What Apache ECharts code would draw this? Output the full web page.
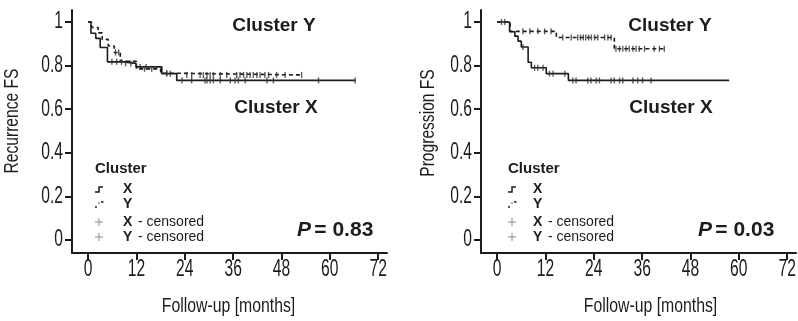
<!DOCTYPE html>
<html>
<head>
<meta charset="utf-8">
<script src="https://cdn.jsdelivr.net/npm/echarts@6/dist/echarts.min.js"></script>
<style>html,body{margin:0;padding:0;background:#fff}#c{width:798px;height:321px}</style>
</head>
<body>
<div id="c"></div>
<script>
// ---------- data ----------
var xTicks = [0, 12, 24, 36, 48, 60, 72];
var xTickLabels = ['0', '12', '24', '36', '48', '60', '72'];
var yTicks = [0, 0.2, 0.4, 0.6, 0.8, 1];
var yTickLabels = ['0', '0.2', '0.4', '0.6', '0.8', '1'];

// Left panel: Recurrence FS
var recXTimes = [0, 0.7, 1.9, 3.0, 4.8, 8.8, 11.9, 18.3, 22.0, 66.3];
var recXSurv  = [1, 0.948, 0.925, 0.883, 0.817, 0.81, 0.794, 0.763, 0.732, 0.732];
var recYTimes = [0, 0.9, 2.5, 3.5, 5.0, 6.5, 8.0, 12.0, 18.0, 21.0, 53.0];
var recYSurv  = [1, 0.975, 0.95, 0.92, 0.89, 0.86, 0.82, 0.785, 0.765, 0.757, 0.757];
var recXCensorT = [5.9, 7.1, 8.3, 9.3, 10.6, 12.9, 14.4, 19.5, 20.4, 23.3, 25.7, 29.0, 29.5, 30.3, 31.1, 32.8, 35.3, 36.5, 37.3, 39.0, 44.4, 46.0, 57.2, 66.3];
var recXCensorS = [0.817, 0.817, 0.817, 0.81, 0.81, 0.794, 0.794, 0.763, 0.763, 0.732, 0.732, 0.732, 0.732, 0.732, 0.732, 0.732, 0.732, 0.732, 0.732, 0.732, 0.732, 0.732, 0.732, 0.732];
var recYCensorT = [6.8, 7.6, 14.0, 15.8, 19.5, 24.5, 25.7, 27.8, 28.6, 29.5, 30.3, 31.1, 32.8, 34.4, 36.9, 37.7, 38.6, 39.4, 40.2, 41.0, 41.9, 42.7, 43.9, 44.8, 46.8, 48.9, 53.0];
var recYCensorS = [0.86, 0.86, 0.785, 0.785, 0.765, 0.757, 0.757, 0.757, 0.757, 0.757, 0.757, 0.757, 0.757, 0.757, 0.757, 0.757, 0.757, 0.757, 0.757, 0.757, 0.757, 0.757, 0.757, 0.757, 0.757, 0.757, 0.757];

// Right panel: Progression FS
var proXTimes = [0, 3.1, 4.4, 5.2, 6.0, 7.7, 8.5, 12.2, 17.7, 57.6];
var proXSurv  = [1, 0.955, 0.935, 0.912, 0.885, 0.815, 0.79, 0.763, 0.732, 0.732];
var proYTimes = [0, 3.2, 14.7, 29.1, 41.9];
var proYSurv  = [1, 0.957, 0.929, 0.877, 0.877];
var proXCensorT = [1.1, 1.9, 6.4, 9.3, 10.1, 11.4, 13.0, 13.9, 16.8, 18.8, 19.6, 22.5, 23.3, 24.6, 25.4, 28.3, 29.1, 30.4, 31.2, 33.7, 34.9, 36.1, 38.2];
var proXCensorS = [1, 1, 0.885, 0.79, 0.79, 0.79, 0.763, 0.763, 0.763, 0.732, 0.732, 0.732, 0.732, 0.732, 0.732, 0.732, 0.732, 0.732, 0.732, 0.732, 0.732, 0.732, 0.732];
var proYCensorT = [6.4, 8.1, 10.1, 11.8, 13.4, 16.3, 18.4, 20.0, 20.7, 21.4, 22.0, 22.7, 23.4, 24.2, 25.0, 26.7, 27.5, 28.3, 29.5, 30.4, 31.2, 32.0, 32.8, 33.7, 34.5, 35.3, 36.6, 39.0, 40.3, 41.5];
var proYCensorS = [0.957, 0.957, 0.957, 0.957, 0.957, 0.929, 0.929, 0.929, 0.929, 0.929, 0.929, 0.929, 0.929, 0.929, 0.929, 0.929, 0.929, 0.929, 0.877, 0.877, 0.877, 0.877, 0.877, 0.877, 0.877, 0.877, 0.877, 0.877, 0.877, 0.877];

// ---------- chart ----------
function zip(a, b) { return a.map(function (v, i) { return [v, b[i]]; }); }
var ARIAL = "'Liberation Sans', Arial, sans-serif";
var INK = '#1c1c1c';
var NARROW_SCALE = 0.68;

function xAx(gi) {
  return {
    type: 'value', gridIndex: gi, min: -4, max: 74.2,
    axisLine: { onZero: false, lineStyle: { color: INK, width: 2 } },
    axisTick: { show: true, length: 7, lineStyle: { color: INK, width: 2 }, customValues: xTicks },
    axisLabel: { show: false },
    splitLine: { show: false }
  };
}
function yAx(gi) {
  return {
    type: 'value', gridIndex: gi, min: -0.06, max: 1.055,
    axisLine: { onZero: false, lineStyle: { color: INK, width: 2 } },
    axisTick: { show: true, length: 7, lineStyle: { color: INK, width: 2 }, customValues: yTicks },
    axisLabel: { show: false },
    splitLine: { show: false }
  };
}
function curve(gi, t, s, dashed) {
  return { type: 'line', xAxisIndex: gi, yAxisIndex: gi, step: 'end', symbol: 'none', silent: true,
    data: zip(t, s), lineStyle: { color: INK, width: 1.6, type: dashed ? [4, 3] : 'solid' }, z: 3 };
}
function cens(gi, t, s) {
  return { type: 'scatter', xAxisIndex: gi, yAxisIndex: gi, symbol: 'rect', symbolSize: [1.4, 6], silent: true,
    data: zip(t, s), itemStyle: { color: '#333' }, z: 4 };
}
function txt(x, y, text, font, extra, scaleX) {
  var o = { type: 'text', x: x, y: y, style: { text: text, font: font, fill: INK, textAlign: 'left', textVerticalAlign: 'middle' }, z: 10 };
  if (extra) { for (var k in extra) o.style[k] = extra[k]; }
  if (scaleX) { o.scaleX = scaleX; }
  return o;
}
function legend(x0, xs, xt, xc) {
  var g = [];
  g.push(txt(x0, 169, 'Cluster', 'bold 15px ' + ARIAL));
  g.push({ type: 'polyline', shape: { points: [[xs, 192], [xs + 4, 192], [xs + 4, 187], [xs + 8, 187]] }, style: { stroke: INK, lineWidth: 1.5, fill: null } });
  g.push({ type: 'line', shape: { x1: xs, y1: 207, x2: xs + 2, y2: 207 }, style: { stroke: INK, lineWidth: 1.5 } });
  g.push({ type: 'line', shape: { x1: xs + 3.5, y1: 203, x2: xs + 4.5, y2: 203 }, style: { stroke: INK, lineWidth: 1.5 } });
  g.push({ type: 'line', shape: { x1: xs + 6, y1: 202, x2: xs + 8.5, y2: 202 }, style: { stroke: INK, lineWidth: 1.5 } });
  [222, 237].forEach(function (yy) {
    g.push({ type: 'line', shape: { x1: xs, y1: yy, x2: xs + 8, y2: yy }, style: { stroke: '#8a8a8a', lineWidth: 1 } });
    g.push({ type: 'line', shape: { x1: xs + 4, y1: yy - 4, x2: xs + 4, y2: yy + 4 }, style: { stroke: '#8a8a8a', lineWidth: 1 } });
  });
  g.push(txt(xt, 189, 'X', 'bold 14px ' + ARIAL));
  g.push(txt(xt, 204, 'Y', 'bold 14px ' + ARIAL));
  g.push(txt(xt, 222, 'X', 'bold 14px ' + ARIAL));
  g.push(txt(xt, 237, 'Y', 'bold 14px ' + ARIAL));
  g.push(txt(xc, 222, '- censored', '14px ' + ARIAL));
  g.push(txt(xc, 237, '- censored', '14px ' + ARIAL));
  return g;
}
function pval(x, val) {
  return {
    type: 'text', x: x, y: 230, z: 10,
    style: { text: '{i|P} {b|= ' + val + '}', textVerticalAlign: 'middle', textAlign: 'left',
      rich: { i: { font: 'italic bold 21px ' + ARIAL, fill: INK }, b: { font: 'bold 21px ' + ARIAL, fill: INK } } }
  };
}

var chart = echarts.init(document.getElementById('c'), null, { renderer: 'canvas' });
chart.setOption({
  animation: false,
  backgroundColor: '#fff',
  grid: [
    { left: 72, top: 10, width: 315, height: 243 },
    { left: 481, top: 10, width: 315, height: 243 }
  ],
  xAxis: [xAx(0), xAx(1)],
  yAxis: [yAx(0), yAx(1)],
  series: [
    curve(0, recXTimes, recXSurv, false),
    curve(0, recYTimes, recYSurv, true),
    cens(0, recXCensorT, recXCensorS),
    cens(0, recYCensorT, recYCensorS),
    curve(1, proXTimes, proXSurv, false),
    curve(1, proYTimes, proYSurv, true),
    cens(1, proXCensorT, proXCensorS),
    cens(1, proYCensorT, proYCensorS)
  ]
});

// Tick labels in a condensed look, positioned through the axes' own scales
function tickLabels(gi) {
  var g = [];
  var font = '23px ' + ARIAL;
  xTicks.forEach(function (v, i) {
    var p = chart.convertToPixel({ gridIndex: gi }, [v, 0]);
    var axisY = chart.convertToPixel({ gridIndex: gi }, [0, -0.06])[1];
    g.push(txt(p[0], axisY + 17, xTickLabels[i], font, { textAlign: 'center' }, NARROW_SCALE));
  });
  yTicks.forEach(function (v, i) {
    var p = chart.convertToPixel({ gridIndex: gi }, [0, v]);
    var axisX = chart.convertToPixel({ gridIndex: gi }, [-4, 0])[0];
    g.push(txt(axisX - 9, p[1], yTickLabels[i], font, { textAlign: 'right' }, NARROW_SCALE));
  });
  return g;
}

var graphics = [
  { type: 'text', x: 12, y: 121, rotation: Math.PI / 2, scaleX: 0.78, style: { text: 'Recurrence FS', font: '20px ' + ARIAL, fill: INK, textAlign: 'center', textVerticalAlign: 'middle' } },
  { type: 'text', x: 428, y: 123, rotation: Math.PI / 2, scaleX: 0.78, style: { text: 'Progression FS', font: '20px ' + ARIAL, fill: INK, textAlign: 'center', textVerticalAlign: 'middle' } },
  txt(228.5, 306, 'Follow-up [months]', '20px ' + ARIAL, { textAlign: 'center' }, 0.79),
  txt(650.5, 306, 'Follow-up [months]', '20px ' + ARIAL, { textAlign: 'center' }, 0.79),
  txt(274, 26, 'Cluster Y', 'bold 19px ' + ARIAL, { textAlign: 'center' }),
  txt(276, 108, 'Cluster X', 'bold 19px ' + ARIAL, { textAlign: 'center' }),
  txt(670, 26, 'Cluster Y', 'bold 19px ' + ARIAL, { textAlign: 'center' }),
  txt(671, 108, 'Cluster X', 'bold 19px ' + ARIAL, { textAlign: 'center' }),
  pval(297, '0.83'),
  pval(698, '0.03')
].concat(legend(95, 95, 123, 138)).concat(legend(508, 508, 533, 548))
 .concat(tickLabels(0)).concat(tickLabels(1));

chart.setOption({ graphic: graphics });
</script>
</body>
</html>
